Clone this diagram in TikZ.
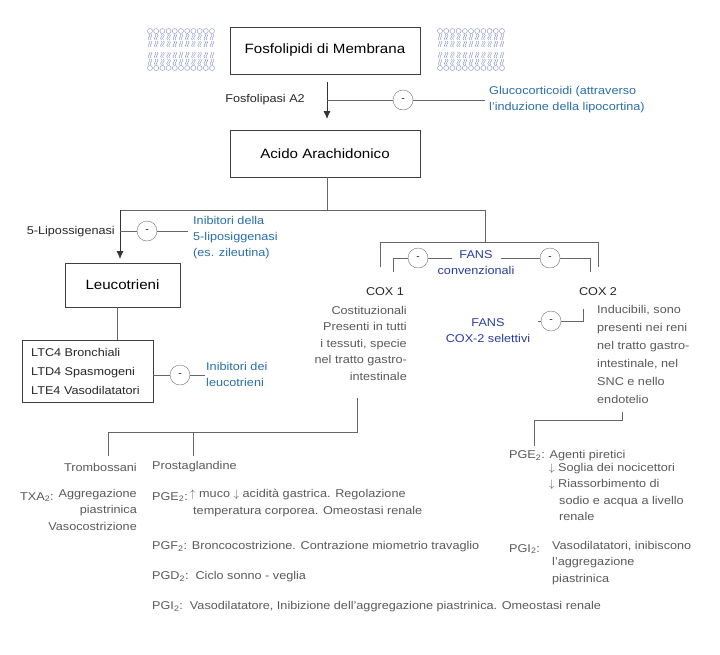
\documentclass[tikz,border=0pt]{standalone}
\usepackage{fontspec}
\setmainfont{Liberation Sans}[FakeStretch=1.12]
\usetikzlibrary{arrows.meta}
\begin{document}
\begin{tikzpicture}[x=1pt,y=-1pt,
  box/.style={draw=black!75,line width=0.6pt,minimum width=190pt,minimum height=47pt,font=\fontsize{13.5}{15}\selectfont,inner sep=0},
  sbox/.style={draw=black!75,line width=0.6pt,inner sep=0},
  ln/.style={draw=black!60,line width=0.8pt},
  arr/.style={draw=black!80,line width=0.8pt,-{Latex[length=8pt,width=7pt]}},
  inh/.style={circle,draw=black!55,fill=white,minimum size=20pt,inner sep=0,font=\small},
  t/.style={font=\fontsize{11.3}{16}\selectfont,text=black!85,inner sep=0},
  g/.style={font=\fontsize{11.3}{16.5}\selectfont,text=black!65,inner sep=0},
  blu/.style={font=\fontsize{11.3}{16}\selectfont,text={rgb,255:red,40;green,110;blue,170},inner sep=0},
  dblu/.style={font=\fontsize{11.3}{16}\selectfont,text={rgb,255:red,40;green,60;blue,160},inner sep=0},
  memb/.style={draw={rgb,255:red,150;green,160;blue,200},line width=0.5pt}
]
\useasboundingbox (0,0) rectangle (720,654);
% membranes
\foreach \ox in {147,437}{
  \foreach \i in {0,...,10}{
    \draw[memb] (\ox+3+\i*6.2,31) circle (2.5);
    \draw[memb] (\ox+3+\i*6.2,68) circle (2.5);
    \foreach \yy in {34,41,52,59}{
    \draw[memb] (\ox+2+\i*6.2,\yy) .. controls (\ox+5+\i*6.2,\yy+2) and (\ox-1+\i*6.2,\yy+4) .. (\ox+2+\i*6.2,\yy+6);
    \draw[memb] (\ox+4+\i*6.2,\yy) .. controls (\ox+7+\i*6.2,\yy+2) and (\ox+1+\i*6.2,\yy+4) .. (\ox+4+\i*6.2,\yy+6);
    }
  }
}
\node[box] (fm) at (325,50.5) {Fosfolipidi di Membrana};
\node[box] (aa) at (325,153.5) {Acido Arachidonico};
\coordinate (a1) at (327,82);
\coordinate (a2) at (327,119);
\draw[arr] (a1) -- (a2);
\node[t,anchor=east] (fa2) at (305,100) {Fosfolipasi A2};
\coordinate (j1) at (327,100);
\node[inh] (c1) at (403,100) {-};
\coordinate (j1e) at (485,100);
\draw[ln] (j1) -- (c1) -- (j1e);
\node[blu,align=left,anchor=west] (gluc) at (489,100) {Glucocorticoidi (attraverso\\l'induzione della lipocortina)};
% split
\coordinate (s0) at (327,177);
\coordinate (s1) at (327,210);
\coordinate (sl) at (120,210);
\coordinate (sr) at (485,210);
\coordinate (slb) at (120,259);
\draw[ln] (s0) -- (s1);
\draw[ln] (sl) -- (sr);
\draw[arr] (sl) -- (slb);
\node[t,anchor=east] (lip) at (115,232) {5-Lipossigenasi};
\coordinate (j2) at (120,231);
\node[inh] (c2) at (147,231) {-};
\coordinate (j2e) at (188,231);
\draw[ln] (j2) -- (c2) -- (j2e);
\node[blu,align=left,anchor=west] (inl) at (193,238) {Inibitori della\\5-liposiggenasi\\(es. zileutina)};
\node[sbox,minimum width=115pt,minimum height=44pt,font=\fontsize{13.5}{15}\selectfont] (leu) at (122.5,285) {Leucotrieni};
\node[sbox,minimum width=131pt,minimum height=62pt] (lt) at (87.5,371) {};
\node[t,align=left,anchor=west,font=\fontsize{11.3}{19}\selectfont] (ltt) at (31,371) {LTC4 Bronchiali\\LTD4 Spasmogeni\\LTE4 Vasodilatatori};
\coordinate (lu) at (117,307);
\coordinate (ld) at (117,340);
\draw[ln] (lu) -- (ld);
\node[inh] (c3) at (180,375) {-};
\coordinate (j3e) at (205,375);
\draw[ln] (lt.east|-c3) -- (c3) -- (j3e);
\node[blu,align=left,anchor=west] (inlt) at (206,374) {Inibitori dei\\leucotrieni};
% COX bracket
\coordinate (b0) at (485,242);
\coordinate (bl) at (380,242);
\coordinate (br) at (598,242);
\coordinate (bld) at (380,267);
\coordinate (brd) at (598,267);
\draw[ln] (sr) -- (b0);
\draw[ln] (bld) -- (bl) -- (br) -- (brd);
\coordinate (il) at (393,272);
\coordinate (ilt) at (393,258);
\coordinate (ir) at (590,272);
\coordinate (irt) at (590,258);
\node[inh] (c4) at (418,258) {-};
\node[inh] (c5) at (550,258) {-};
\node[dblu,align=center] (fans) at (476,263) {FANS\\convenzionali};
\coordinate (fl) at (452,258);
\coordinate (fr) at (501,258);
\draw[ln] (il) -- (ilt) -- (c4) -- (fl);
\draw[ln] (ir) -- (irt) -- (c5) -- (fr);
\node[t] (cox1) at (385,292) {COX 1};
\node[t] (cox2) at (598,292) {COX 2};
\node[g,align=right,anchor=north east] (d1) at (407,306) {Costituzionali\\Presenti in tutti\\i tessuti, specie\\nel tratto gastro-\\intestinale};
\node[g,align=left,anchor=north west,font=\fontsize{11.3}{18}\selectfont] (d2) at (597,305) {Inducibili, sono\\presenti nei reni\\nel tratto gastro-\\intestinale, nel\\SNC e nello\\endotelio};
\node[dblu,align=center] (fs) at (488,331) {FANS\\COX-2 selettivi};
\node[inh] (c6) at (551,321) {-};
\coordinate (j6a) at (583,321);
\coordinate (j6b) at (583,309);
\coordinate (j6c) at (538,321);
\draw[ln] (j6c) -- (c6) -- (j6a) -- (j6b);
% lower left
\coordinate (l0) at (357,398);
\coordinate (l1) at (357,432);
\coordinate (la) at (108,432);
\coordinate (lb) at (193,432);
\coordinate (lad) at (108,456);
\coordinate (lbd) at (193,456);
\draw[ln] (l0) -- (l1) -- (la) -- (lad);
\draw[ln] (lb) -- (lbd);
\node[g,anchor=east] (tromb) at (137,467) {Trombossani};
\node[g,anchor=west] (prost) at (152,467) {Prostaglandine};
\node[g,anchor=west] (txa) at (20,497) {TXA\textsubscript{2}:};
\node[g,align=right,anchor=north east] (txat) at (137,489) {Aggregazione\\piastrinica\\Vasocostrizione};
\node[g,anchor=west] (pge) at (152,497) {PGE\textsubscript{2}:};
\node[g,align=left,anchor=north west] (pget) at (190,489) {$\uparrow$ muco $\downarrow$ acidità gastrica. Regolazione\\\hspace*{3pt}temperatura corporea. Omeostasi renale};
\node[g,anchor=west] (pgf) at (152,547) {PGF\textsubscript{2}: Broncocostrizione. Contrazione miometrio travaglio};
\node[g,anchor=west] (pgd) at (152,577) {PGD\textsubscript{2}:\ \ Ciclo sonno - veglia};
\node[g,anchor=west] (pgi) at (152,607) {PGI\textsubscript{2}:\ \ Vasodilatatore, Inibizione dell'aggregazione piastrinica. Omeostasi renale};
% lower right
\coordinate (r0) at (622,412);
\coordinate (r1) at (622,420);
\coordinate (r2) at (534,420);
\coordinate (r3) at (534,446);
\draw[ln] (r0) -- (r1) -- (r2) -- (r3);
\node[g,anchor=west] (rpge) at (509,456) {PGE\textsubscript{2}: Agenti piretici};
\node[g,align=left,anchor=north west] (rpget) at (549,463) {$\downarrow$ Soglia dei nocicettori\\$\downarrow$ Riassorbimento di\\\hspace*{10pt}sodio e acqua a livello\\\hspace*{10pt}renale};
\node[g,anchor=west] (rpgi) at (509,549) {PGI\textsubscript{2}:};
\node[g,align=left,anchor=north west] (rpgit) at (552,541) {Vasodilatatori, inibiscono\\l'aggregazione\\piastrinica};
\end{tikzpicture}
\end{document}
